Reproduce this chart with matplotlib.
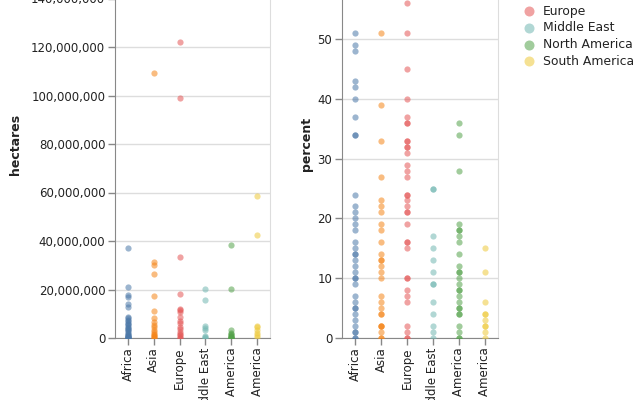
import matplotlib
matplotlib.use('Agg')
import matplotlib.pyplot as plt
from matplotlib.ticker import FuncFormatter

plt.rcParams['font.family'] = ['DejaVu Sans']

regions = ['Africa', 'Asia', 'Europe', 'Middle East', 'North America', 'South America']
colors = ['#4c78a8', '#f58518', '#e45756', '#72b7b2', '#54a24b', '#eeca3b']

# forest area in hectares, millions
hectares_m = {
    'Africa': [37.0, 21.1, 17.7, 16.8, 13.9, 12.7, 8.8, 8.2, 7.5, 7.0, 6.3, 5.8, 5.2,
               4.6, 4.1, 3.6, 3.1, 2.7, 2.2, 1.8, 1.4, 1.0, 0.8, 0.5, 0.3, 0.2, 0.1, 0.05],
    'Asia': [109.2, 31.3, 30.3, 26.4, 17.3, 11.2, 8.1, 6.7, 5.5, 4.4, 3.4, 2.6, 1.8,
             1.2, 0.7, 0.3, 0.1],
    'Europe': [121.9, 99.1, 33.2, 18.1, 12.0, 11.6, 10.8, 8.8, 7.2, 6.0, 4.7, 3.6,
               2.6, 1.8, 1.2, 0.6, 0.2],
    'Middle East': [20.1, 15.8, 5.0, 4.2, 3.5, 1.0, 0.5, 0.2],
    'North America': [38.4, 20.2, 3.2, 2.2, 1.6, 1.2, 0.8, 0.5, 0.3, 0.2, 0.1, 0.05],
    'South America': [58.4, 42.5, 5.0, 4.6, 3.3, 2.2, 1.2, 0.5],
}

# share of land area, percent (right panel)
percent = {
    'Africa': [51, 49, 48, 43, 42, 40, 37, 34, 34, 24, 22, 21, 20, 19, 18, 16, 15, 14,
               14, 13, 12, 11, 10, 10, 9, 7, 6, 5, 5, 4, 3, 2, 1, 1, 0, 0],
    'Asia': [51, 39, 33, 27, 23, 22, 21, 19, 18, 16, 14, 13, 13, 12, 11, 10, 7, 6, 5,
             4, 4, 2, 2, 2, 1, 0, 0],
    'Europe': [56, 51, 45, 40, 37, 36, 36, 33, 33, 32, 32, 31, 29, 28, 27, 24, 24, 23,
               22, 21, 21, 19, 16, 16, 15, 10, 10, 8, 7, 6, 2, 1, 0, 0],
    'Middle East': [25, 25, 17, 15, 13, 11, 9, 9, 6, 4, 2, 1, 0],
    'North America': [36, 34, 28, 19, 18, 18, 17, 16, 14, 12, 11, 11, 10, 9, 8, 8, 7,
                      6, 5, 5, 4, 4, 2, 1, 0, 0],
    'South America': [15, 11, 6, 4, 4, 3, 2, 2, 1, 0],
}

fig = plt.figure(figsize=(6.4, 4), dpi=100)

W, H = 640, 400


def panel(left, right, values, scale, ymax, step, title, title_x, fmt):
    ax = fig.add_axes([left / W, (H - 338) / H, (right - left) / W, 388 / H])
    for i, r in enumerate(regions):
        v = [x * scale for x in values[r]]
        ax.scatter([i] * len(v), v, s=20, color=colors[i], alpha=0.55,
                   linewidths=0, zorder=3)
    ax.set_xlim(-0.5, len(regions) - 0.5)
    ax.set_ylim(0, ymax)
    ax.set_yticks([k * step for k in range(int(ymax // step) + 1)])
    ax.yaxis.set_major_formatter(FuncFormatter(fmt))
    ax.set_xticks(range(len(regions)))
    ax.set_xticklabels(regions, rotation=90, va='top', ha='center')
    ax.grid(axis='y', color='#dddddd', linewidth=1, zorder=0)
    ax.set_axisbelow(True)
    for s in ['left', 'bottom']:
        ax.spines[s].set_color('#888888')
    ax.spines['top'].set_visible(False)
    ax.spines['right'].set_color('#dddddd')
    ax.tick_params(colors='#888888', labelcolor='#222222', labelsize=8.5,
                   length=5, width=1, pad=2)
    ax.set_ylabel(title, fontsize=9, fontweight='bold', color='#222222')
    ax.yaxis.set_label_coords((title_x - left) / (right - left), 0.5)
    return ax


panel(115, 270, hectares_m, 1e6, 160e6, 20e6, 'hectares', 22,
      lambda v, p: f'{v:,.0f}')
panel(342, 498, percent, 1, 64.9, 10, 'percent', 313,
      lambda v, p: f'{v:.0f}')

# legend (top of it falls outside the picture)
lg = fig.add_axes([0, 0, 1, 1])
lg.set_xlim(0, W)
lg.set_ylim(H, 0)
lg.axis('off')
for i, r in enumerate(regions):
    y = 11 + (i - 2) * 16.8
    lg.scatter([529], [y], s=52, color=colors[i], alpha=0.55, linewidths=0)
    lg.text(543, y, r, fontsize=8.9, va='center', ha='left', color='#222222')

fig.savefig('out.png', dpi=100)
